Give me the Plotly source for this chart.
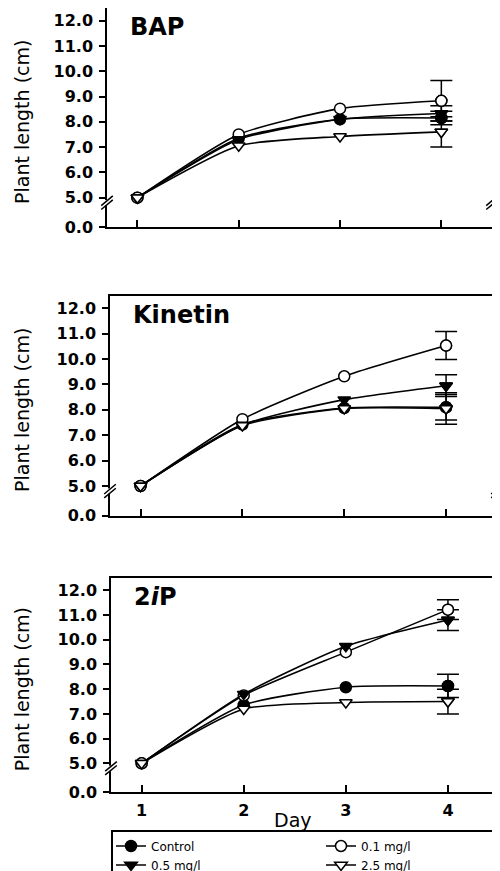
import plotly.graph_objects as go

# ---------------- data ----------------
days = [1, 2, 3, 4]
day_tick_labels = ["1", "2", "3", "4"]
series_names = ["Control", "0.1 mg/l", "0.5 mg/l", "2.5 mg/l"]
panel_names = ["BAP", "Kinetin", "2<i>i</i>P"]

# BAP
bap_control = [5.0, 7.35, 8.10, 8.15]
bap_01 = [5.0, 7.50, 8.52, 8.83]
bap_05 = [5.0, 7.30, 8.10, 8.33]
bap_25 = [5.0, 7.05, 7.42, 7.60]
bap_sd_day4 = [0.27, 0.80, 0.30, 0.60]

# Kinetin
kin_control = [5.0, 7.42, 8.07, 8.10]
kin_01 = [5.0, 7.63, 9.32, 10.53]
kin_05 = [5.0, 7.40, 8.40, 8.95]
kin_25 = [5.0, 7.38, 8.05, 8.05]
kin_sd_day4 = [0.50, 0.55, 0.43, 0.62]

# 2iP
ip_control = [5.0, 7.36, 8.08, 8.13]
ip_01 = [5.0, 7.75, 9.50, 11.22]
ip_05 = [5.0, 7.80, 9.74, 10.80]
ip_25 = [5.0, 7.20, 7.46, 7.50]
ip_sd_day4 = [0.47, 0.40, 0.42, 0.50]

y_tick_values = [3.84, 5, 6, 7, 8, 9, 10, 11, 12]
y_tick_labels = ["0.0", "5.0", "6.0", "7.0", "8.0", "9.0", "10.0", "11.0", "12.0"]

panels = [
    ([bap_control, bap_01, bap_05, bap_25], bap_sd_day4),
    ([kin_control, kin_01, kin_05, kin_25], kin_sd_day4),
    ([ip_control, ip_01, ip_05, ip_25], ip_sd_day4),
]

# ---------------- layout helpers ----------------
W, H = 500, 871
PAGE_OFFSET = 8  # default page margin of the html body


def fx(px):
    return (px - PAGE_OFFSET) / W


def fy(py):
    return 1 - (py - PAGE_OFFSET) / H


marker_styles = [
    dict(symbol="circle", color="black", size=11, line=dict(color="black", width=1.5)),
    dict(symbol="circle", color="white", size=11, line=dict(color="black", width=1.5)),
    dict(symbol="triangle-down", color="black", size=11, line=dict(color="black", width=1.5)),
    dict(symbol="triangle-down", color="white", size=11, line=dict(color="black", width=1.5)),
]
x_domains = [(fx(107), fx(492)), (fx(110), fx(497)), (fx(111), fx(499))]
y_domains = [(fy(227), fy(8)), (fy(515.5), fy(295.5)), (fy(792), fy(578))]
Y_RANGE = [3.84, 12.5]
X_RANGE = [0.7, 4.5]
TICK_FONT = dict(family="DejaVu Sans", size=16, color="black", weight="bold")
TITLE_FONT = dict(family="DejaVu Sans", size=19, color="black")

fig = go.Figure()

for p, (vals, sds) in enumerate(panels):
    xa = "x" if p == 0 else f"x{p+1}"
    ya = "y" if p == 0 else f"y{p+1}"
    # error bars at day 4 (drawn first, below)
    for j, name in enumerate(series_names):
        fig.add_trace(go.Scatter(
            x=[days[-1]], y=[vals[j][-1]], xaxis=xa, yaxis=ya,
            mode="markers", marker=marker_styles[j], showlegend=False,
            legendgroup=name, hoverinfo="skip",
            error_y=dict(type="data", array=[sds[j]], visible=True,
                         color="black", thickness=1.5, width=11),
        ))
    for j, name in enumerate(series_names):
        fig.add_trace(go.Scatter(
            x=days, y=vals[j], xaxis=xa, yaxis=ya, name=name,
            legendgroup=name, showlegend=(p == 0),
            mode="lines+markers",
            line=dict(color="black", width=1.6, shape="spline", smoothing=0.6),
            marker=marker_styles[j],
        ))

layout = dict(
    width=W, height=H,
    margin=dict(l=0, r=0, t=0, b=0, autoexpand=False),
    paper_bgcolor="white", plot_bgcolor="white",
    showlegend=True,
    legend=dict(
        orientation="h", x=fx(111), y=fy(830), xanchor="left", yanchor="top",
        bordercolor="black", borderwidth=1.5, bgcolor="rgba(0,0,0,0)",
        font=dict(family="DejaVu Sans", size=12, color="black"),
        entrywidth=165, itemwidth=30, tracegroupgap=0,
    ),
)

shapes = []
annotations = []
for p in range(3):
    sfx = "" if p == 0 else str(p + 1)
    layout["xaxis" + sfx] = dict(
        domain=list(x_domains[p]), anchor="y" + sfx, range=X_RANGE,
        tickvals=days, ticktext=day_tick_labels, showticklabels=(p == 2),
        ticks="inside", ticklen=7, tickwidth=1.5, tickcolor="black",
        showline=True, linecolor="black", linewidth=1.5, mirror=True,
        showgrid=False, zeroline=False, tickfont=TICK_FONT, ticklabelstandoff=3,
    )
    layout["yaxis" + sfx] = dict(
        domain=list(y_domains[p]), anchor="x" + sfx, range=Y_RANGE,
        tickvals=y_tick_values, ticktext=y_tick_labels,
        ticks="outside", ticklen=6, tickwidth=1.5, tickcolor="black",
        showline=True, linecolor="black", linewidth=1.5, mirror=True,
        showgrid=False, zeroline=False, tickfont=TICK_FONT, ticklabelstandoff=3,
    )
    # axis break marks on both vertical sides
    yb = (4.80 - Y_RANGE[0]) / (Y_RANGE[1] - Y_RANGE[0])
    dy = 0.022
    for xc in (0.0, 1.0):
        shapes.append(dict(type="rect", xref=f"x{sfx} domain", yref=f"y{sfx} domain",
                           x0=xc - 0.006, x1=xc + 0.006, y0=yb - 0.012, y1=yb + 0.012,
                           fillcolor="white", line=dict(width=0), layer="above"))
        for off in (-0.009, 0.009):
            shapes.append(dict(type="line", xref=f"x{sfx} domain", yref=f"y{sfx} domain",
                               x0=xc - 0.015, x1=xc + 0.015,
                               y0=yb + off - dy, y1=yb + off + dy,
                               line=dict(color="black", width=1.5), layer="above"))
    # panel label
    annotations.append(dict(text=f"<b>{panel_names[p]}</b>", xref=f"x{sfx} domain",
                            yref=f"y{sfx} domain", x=0.055, y=0.985,
                            xanchor="left", yanchor="top", showarrow=False,
                            font=dict(family="DejaVu Sans", size=24, color="black")))
    # y title
    annotations.append(dict(text="Plant length (cm)", xref="paper", yref=f"y{sfx} domain",
                            x=fx(22), y=0.48, xanchor="center", yanchor="middle",
                            textangle=-90, showarrow=False, font=TITLE_FONT))

annotations.append(dict(text="Day", xref="x3 domain", yref="paper",
                        x=0.47, y=fy(820), xanchor="center", yanchor="middle",
                        showarrow=False, font=dict(family="DejaVu Sans", size=19, color="black")))
layout["shapes"] = shapes
layout["annotations"] = annotations
fig.update_layout(**layout)

fig.write_html("out.html")
